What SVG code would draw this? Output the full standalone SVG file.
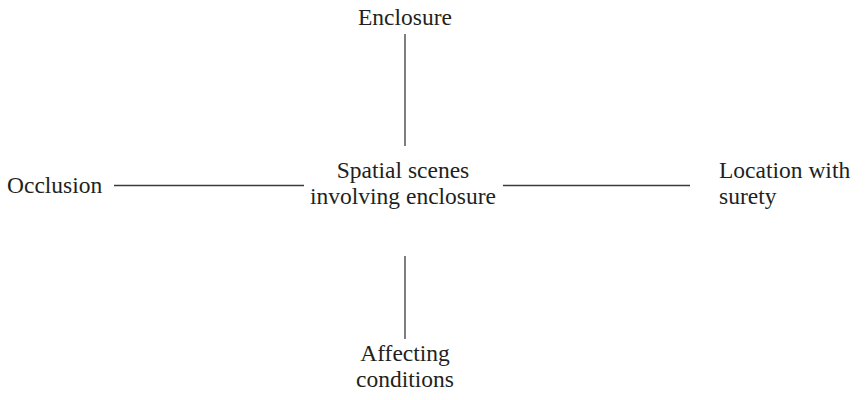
<svg xmlns="http://www.w3.org/2000/svg" width="867" height="400" viewBox="0 0 867 400">
<style>
text{font-family:"Liberation Serif","Times New Roman",serif;font-size:23.5px;fill:#231f20}
.c{text-anchor:middle}
line{stroke:#3a3a3a;stroke-width:1.3}
</style>
<rect width="867" height="400" fill="#fff"/>
<g id="connectors">
<line x1="405" y1="34" x2="405" y2="146"/>
<line x1="405" y1="256" x2="405" y2="339"/>
<line x1="114" y1="185.5" x2="304" y2="185.5"/>
<line x1="503" y1="185.5" x2="690" y2="185.5"/>
</g>
<g id="center"><text class="c" x="403" y="178">Spatial scenes</text><text class="c" x="403" y="204">involving enclosure</text></g>
<g id="top"><text class="c" x="405" y="25">Enclosure</text></g>
<g id="left"><text x="7" y="193">Occlusion</text></g>
<g id="right"><text x="719" y="178">Location with</text><text x="719" y="204">surety</text></g>
<g id="bottom"><text class="c" x="405" y="361">Affecting</text><text class="c" x="405" y="387">conditions</text></g>
</svg>
